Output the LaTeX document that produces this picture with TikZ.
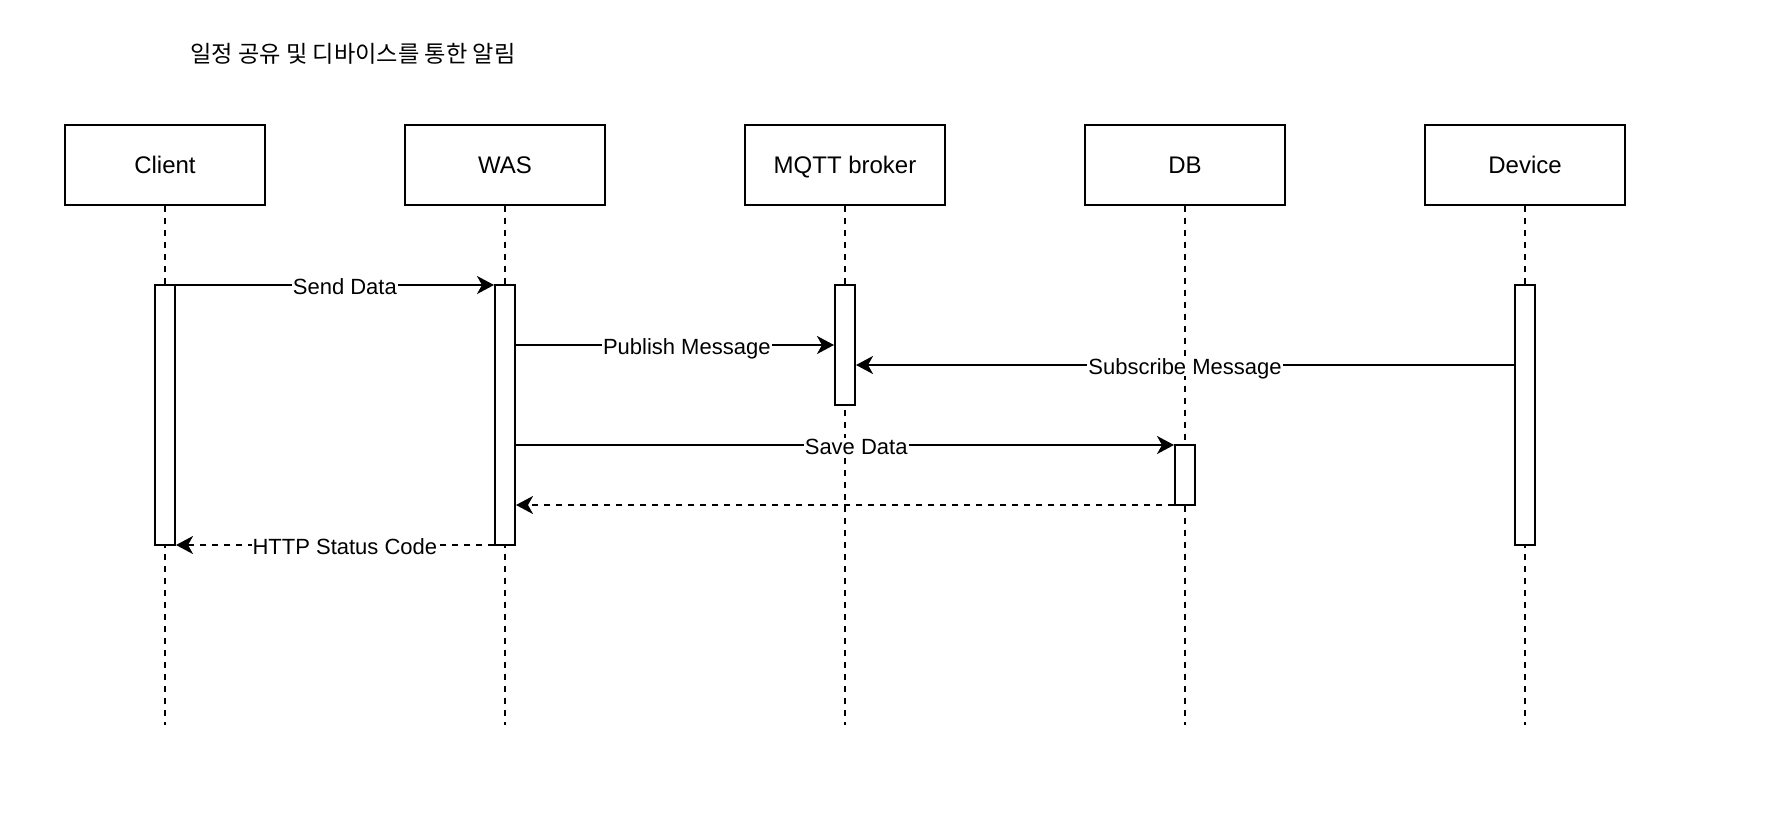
\documentclass[tikz,border=0pt]{standalone}
\usepackage{fontspec}
\setmainfont{Liberation Sans}
\newfontfamily\kor{Noto Sans CJK KR}
\usetikzlibrary{arrows.meta}

\begin{document}
\begin{tikzpicture}[x=0.5pt,y=-0.5pt,line width=1pt,
  >={Stealth[length=8.5pt,width=9pt,inset=2.5pt]},
  head/.style={draw,minimum width=100pt,minimum height=40pt,inner sep=0pt,
    text height=8.6pt,text depth=0pt,font=\fontsize{12}{14}\selectfont},
  act/.style={draw,fill=white,minimum width=10pt,inner sep=0pt},
  life/.style={dash pattern=on 3pt off 3pt},
  msg/.style={->},
  ret/.style={->,dash pattern=on 3pt off 3pt},
  lbl/.style={fill=white,inner sep=0.5pt,text height=7.9pt,text depth=0pt,
    yshift=-1pt,font=\fontsize{11}{13}\selectfont}]
  \def\Y{165}   % 헤더 중심 높이
  \def\B{725}   % 생명선 끝

  \useasboundingbox (0,0) rectangle (1788,816);

  % ================= 제목 =================
  \node[font=\kor\fontsize{11.6}{14}\selectfont] (title) at (353,54)
    {일정 공유 및 디바이스를 통한 알림};

  % ================= 참여자 =================
  \node[head] (client) at (165,\Y) {Client};
  \node[head] (was)    at (505,\Y) {WAS};
  \node[head] (mqtt)   at (845,\Y) {MQTT broker};
  \node[head] (db)     at (1185,\Y) {DB};
  \node[head] (device) at (1525,\Y) {Device};

  % ================= 생명선 =================
  \coordinate (bot) at (0,\B);
  \draw[life] (client.south) -- (client.south |- bot);
  \draw[life] (was.south) -- (was.south |- bot);
  \draw[life] (mqtt.south) -- (mqtt.south |- bot);
  \draw[life] (db.south) -- (db.south |- bot);
  \draw[life] (device.south) -- (device.south |- bot);

  % ================= 활성 구간 =================
  \node[act,minimum height=130pt] (cact) at (165,415) {};
  \node[act,minimum height=130pt] (wact) at (505,415) {};
  \node[act,minimum height=60pt]  (mact) at (845,345) {};
  \node[act,minimum height=30pt]  (dact) at (1185,475) {};
  \node[act,minimum height=130pt] (vact) at (1525,415) {};

  % ================= 메시지 =================
  \coordinate (m1) at (0,285);
  \coordinate (m2) at (0,345);
  \coordinate (m3) at (0,365);
  \coordinate (m4) at (0,445);
  \coordinate (m5) at (0,505);
  \coordinate (m6) at (0,545);

  \draw[msg] (cact.east |- m1) -- node[lbl,pos=0.531] {Send Data} (wact.west |- m1);
  \draw[msg] (wact.east |- m2) -- node[lbl,pos=0.537] {Publish Message} (mact.west |- m2);
  \draw[msg] (vact.west |- m3) -- node[lbl,pos=0.5] {Subscribe Message} (mact.east |- m3);
  \draw[msg] (wact.east |- m4) -- node[lbl,pos=0.517] {Save Data} (dact.west |- m4);
  \draw[ret] (dact.west |- m5) -- (wact.east |- m5);
  \draw[ret] (wact.west |- m6) -- node[lbl,pos=0.469] {HTTP Status Code} (cact.east |- m6);
\end{tikzpicture}
\end{document}
